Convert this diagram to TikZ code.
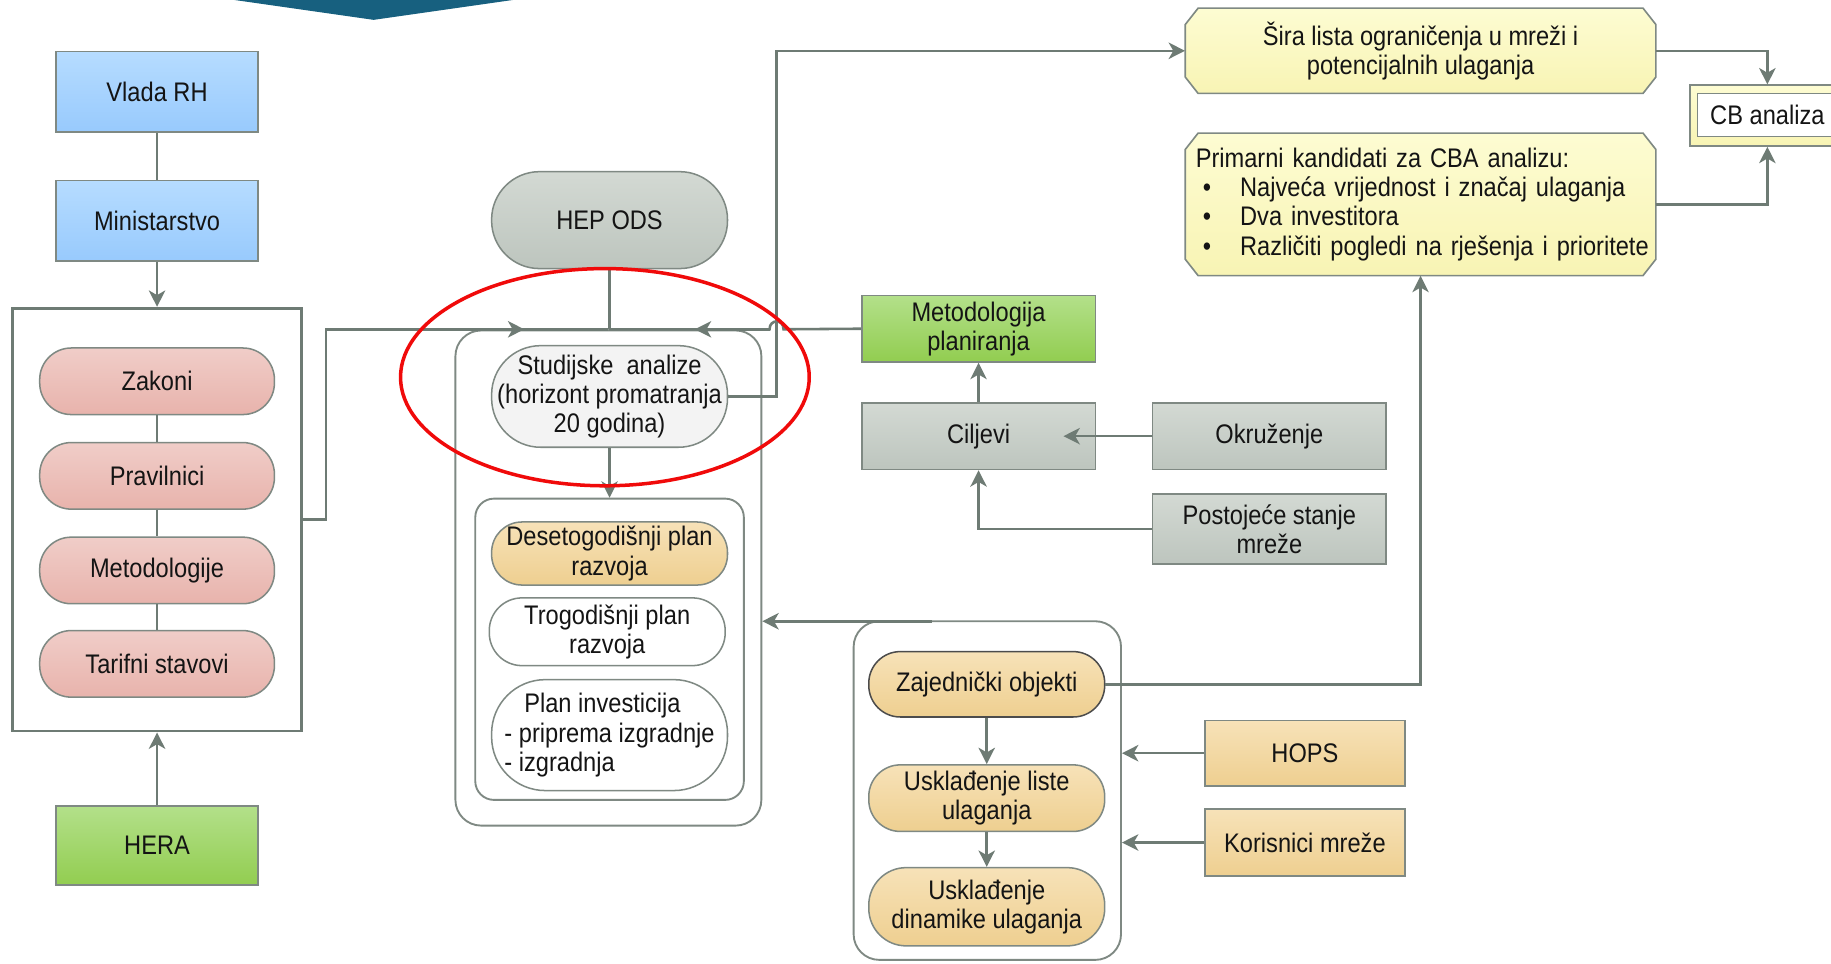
\documentclass[tikz,border=0pt]{standalone}
\usepackage{fontspec}
\setmainfont{Liberation Sans}[FakeStretch=0.88]
\usetikzlibrary{arrows.meta,calc}
\definecolor{connc}{HTML}{6E7B74}
\definecolor{bord}{HTML}{7F8983}
\definecolor{txt}{HTML}{141414}
\definecolor{blueT}{HTML}{B6DCFF}
\definecolor{blueB}{HTML}{98CAFD}
\definecolor{pinkT}{HTML}{F0CDC8}
\definecolor{pinkB}{HTML}{E8B3AC}
\definecolor{greenT}{HTML}{B3E08A}
\definecolor{greenB}{HTML}{92CD50}
\definecolor{grayT}{HTML}{D3D9D3}
\definecolor{grayB}{HTML}{BDC5BE}
\definecolor{orT}{HTML}{F7E2B8}
\definecolor{orB}{HTML}{EECF90}
\definecolor{yelT}{HTML}{FDFCD2}
\definecolor{yelB}{HTML}{F8F4B4}
\definecolor{lightf}{HTML}{F3F3F3}
\definecolor{topblue}{HTML}{17607F}
\definecolor{redline}{HTML}{F00A0A}
\tikzset{
  myarrow/.tip={Stealth[length=14pt,width=14pt,inset=4pt]},
  conn/.style={draw=connc, line width=2.2pt},
  arr/.style={conn, -myarrow},
  box/.style={rectangle, draw=bord, line width=1.4pt, inner sep=0pt, align=center, text=txt},
  bluebox/.style={box, top color=blueT, bottom color=blueB, minimum width=173pt, minimum height=69pt},
  greenbox/.style={box, top color=greenT, bottom color=greenB, minimum width=#1, minimum height=57pt},
  graybox/.style={box, top color=grayT, bottom color=grayB, minimum width=200pt, minimum height=#1},
  orbox/.style={box, top color=orT, bottom color=orB, minimum width=171pt, minimum height=#1},
  pill/.style={rectangle, rounded corners=#1, draw=bord, line width=1.3pt, inner sep=0pt, align=center, text=txt, minimum width=202pt},
  pinkpill/.style={pill=27pt, top color=pinkT, bottom color=pinkB, minimum width=201pt, minimum height=57pt},
  orpill/.style={pill=#1, top color=orT, bottom color=orB},
  container/.style={rectangle, draw=bord, line width=1.6pt, fill=white, inner sep=0pt, rounded corners=#1},
  yelpoly/.style={draw=bord, line width=1.4pt, top color=yelT, bottom color=yelB},
}
\begin{document}
\begin{tikzpicture}[x=1pt,y=-1pt, font=\fontsize{23}{25}\selectfont]
\useasboundingbox (0,0) rectangle (1568,825);
\fill[white] (0,0) rectangle (1568,825);
% top banner shape
\fill[topblue] (201,-2) -- (439,-2) -- (439,0) -- (320,17) -- (201,0) -- cycle;

% ---------- left column ----------
\node[draw=connc, line width=2.5pt, minimum width=247pt, minimum height=362pt, inner sep=0pt] (laws) at (134.5,445) {};
\node[bluebox] (vlada) at (134.5,78.5) {Vlada RH};
\node[bluebox] (mini) at (134.5,189) {Ministarstvo};
\node[pinkpill] (zak) at (134.5,326.5) {Zakoni};
\node[pinkpill] (prav) at (134.5,407.5) {Pravilnici};
\node[pinkpill] (meto) at (134.5,488.5) {Metodologije};
\node[pinkpill] (tar) at (134.5,568.5) {Tarifni stavovi};
\node[greenbox=173pt, minimum height=68pt] (hera) at (134.5,724) {HERA};
\draw[conn] (vlada) -- (mini);
\draw[arr] (mini) -- (laws);
\draw[conn] (zak) -- (prav);
\draw[conn] (prav) -- (meto);
\draw[conn] (meto) -- (tar);
\draw[arr] (hera) -- (laws);

% ---------- middle column ----------
\node[container=22pt, minimum width=262pt, minimum height=424pt] (studbox) at (521,495) {};
\node[container=16pt, minimum width=230pt, minimum height=258pt] (plans) at (522,556) {};
\node[pill=41pt, top color=grayT, bottom color=grayB, minimum height=83pt] (hep) at (522,188.5) {HEP ODS};
\node[pill=42pt, fill=lightf, minimum height=87pt] (stud) at (522,339.5) {Studijske~~analize\\(horizont promatranja\\20 godina)};
\node[orpill=26pt, minimum height=54pt] (deset) at (522,474) {Desetogodišnji plan\\razvoja};
\node[pill=28pt, fill=white, minimum height=58pt] (trog) at (520,541) {Trogodišnji plan\\razvoja};
\node[pill=46pt, fill=white, minimum height=95pt, align=left] (planinv) at (522,629.5) {\hspace*{17pt}Plan investicija\\- priprema izgradnje\\- izgradnja};
\draw[arr] (stud) -- (plans);

% bus line on top of the study container
\coordinate (busL) at (279,282);
\coordinate (busM) at (521,282);
\node[greenbox=200pt] (metod) at (838,281.5) {Metodologija\\planiranja};
\draw[conn] (laws.east) -| (busL) -- (busM);
\draw[arr] (busL) -- (449,282);
\draw[conn] (hep.south) -- (hep.south |- busM);
\draw[conn] (metod.west) -- (671,282) .. controls (671,273) and (659,273) .. (659,282) -- (busM);
\draw[arr] (659,282) -- (595,282);

% ---------- right-hand top ----------
\path[yelpoly] (1026,7) -- (1407,7) -- (1418,21) -- (1418,66) -- (1407,80) -- (1026,80) -- (1015,66) -- (1015,21) -- cycle;
\path[yelpoly] (1026,114) -- (1407,114) -- (1418,128) -- (1418,222) -- (1407,236) -- (1026,236) -- (1015,222) -- (1015,128) -- cycle;
\node[align=center, text=txt, minimum width=403pt, minimum height=73pt, inner sep=0pt] (sira) at (1216.5,43.5) {Šira lista ograničenja u mreži i\\potencijalnih ulaganja};
\node[align=left, text=txt, text width=385pt, inner xsep=9pt, inner ysep=0pt, minimum height=122pt] (prim) at (1216.5,175)
  {\mbox{Primarni kandidati za CBA analizu:}\\
   \mbox{\makebox[38pt][l]{\hspace{6pt}\textbullet}Najveća vrijednost i značaj ulaganja}\\
   \mbox{\makebox[38pt][l]{\hspace{6pt}\textbullet}Dva investitora}\\
   \mbox{\makebox[38pt][l]{\hspace{6pt}\textbullet}Različiti pogledi na rješenja i prioritete}};
\node[box, top color=yelT, bottom color=yelB, minimum width=133pt, minimum height=52pt] (cb) at (1513.5,99) {};
\node[box, fill=white, line width=1.3pt, minimum width=120pt, minimum height=37pt] (cbin) at (1513.5,98.5) {CB analiza};
\draw[arr] (stud.east) -- (665,339.5) |- (sira.west);
\draw[arr] (sira.east) -| (cb.north);
\draw[arr] (prim.east) -| (cb.south);

% ---------- goals ----------
\node[graybox=57pt] (cilj) at (838,373.5) {Ciljevi};
\node[graybox=57pt] (okr) at (1087,373.5) {Okruženje};
\node[graybox=60pt] (post) at (1087,453) {Postojeće stanje\\mreže};
\draw[arr] (cilj) -- (metod);
\draw[arr] (okr.west) -- ($(cilj.east)+(-28,0)$);
\draw[arr] (post.west) -| (cilj.south);

% ---------- common objects ----------
\node[container=22pt, minimum width=229pt, minimum height=290pt] (zajbox) at (845.5,677) {};
\coordinate (zajtop) at (798,532);
\draw[arr] (zajtop) -- (studbox.east |- zajtop);
\node[orpill=27pt, draw=black!70, minimum height=56pt] (zaj) at (845,586) {Zajednički objekti};
\node[orpill=27pt, minimum height=57pt] (usk1) at (845,683.5) {Usklađenje liste\\ulaganja};
\node[orpill=32pt, minimum height=67pt] (usk2) at (845,776.5) {Usklađenje\\dinamike ulaganja};
\draw[arr] (zaj) -- (usk1);
\draw[arr] (usk1) -- (usk2);
\draw[arr] (zaj.east) -| (prim.south);
\node[orbox=56pt] (hops) at (1117.5,645) {HOPS};
\node[orbox=57pt] (kor) at (1117.5,721.5) {Korisnici mreže};
\draw[arr] (hops.west) -- (zajbox.east |- hops.west);
\draw[arr] (kor.west) -- (zajbox.east |- kor.west);

% ---------- red highlight ----------
\draw[redline, line width=3pt] (518,323) ellipse [x radius=175, y radius=93];
\end{tikzpicture}
\end{document}
